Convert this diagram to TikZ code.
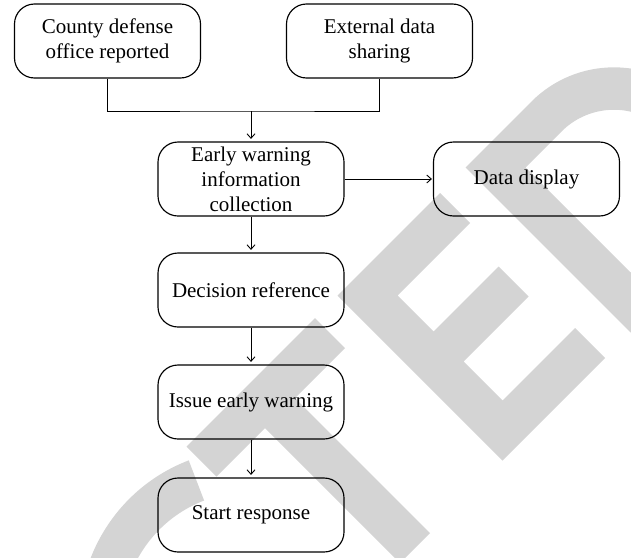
\documentclass[tikz,border=0pt]{standalone}
\usepackage{fontspec}
\setmainfont{Liberation Serif}
\usetikzlibrary{arrows.meta,calc}
\definecolor{wmgray}{RGB}{212,212,212}
\begin{document}
\begin{tikzpicture}[x=1pt,y=-1pt,
  box/.style={draw, line width=1.15pt, rounded corners=20pt, minimum width=186pt,
    minimum height=74pt, inner sep=0pt, align=center, font=\fontsize{21}{25}\selectfont},
  conn/.style={line width=0.9pt},
  arr/.style={conn, -{Straight Barb[length=4.5pt,width=8pt]}, shorten >=2.5pt},
  wm/.style={fill=wmgray, draw=none}]
\useasboundingbox (0,0) rectangle (631,557);
% watermark
\begin{scope}
\clip (0,0) rectangle (631,557);
% C
\fill[wm] ($(250,620)+(-111:171)$) arc[start angle=-111,end angle=-200,radius=171]
  -- ($(250,620)+(-200:128)$) arc[start angle=-200,end angle=-111,radius=128] -- cycle;
% T
\fill[wm] (315,318) -- (186.5,446.5) -- (216.5,476.5) -- (265,428) -- (400,563)
  -- (430,533) -- (295,398) -- (345,348) -- cycle;
% E
\fill[wm] (337.5,295.5) -- (502.5,460.5) -- (605,358) -- (575,328) -- (502.5,400.5)
  -- (463.5,361.5) -- (528.5,296.5) -- (498.5,266.5) -- (433.5,331.5) -- (397.5,295.5)
  -- (470,223) -- (440,193) -- cycle;
% D
\fill[wm, even odd rule] (465.5,167.5) -- (531.5,101.5)
  arc[start angle=-135,end angle=45,radius=116.7] -- (630.5,332.5) -- cycle
  (525.5,167.5) -- (561.5,131.5) arc[start angle=-135,end angle=45,radius=74.2]
  -- (630.5,272.5) -- cycle;
\end{scope}
% boxes
\node[box] (county) at (107.5,41) {County defense\\office reported};
\node[box] (external) at (379.5,41) {External data\\sharing};
\node[box] (early) at (251,179) {Early warning\\information\\collection};
\node[box] (data) at (526.5,179) {Data display};
\node[box] (decision) at (251,290) {Decision reference};
\node[box] (issue) at (251,402) {Issue early warning};
\node[box] (start) at (251,515) {Start response};
\coordinate (j) at (251,111);
% connectors
\draw[conn] (county.south) |- (j) -| (external.south);
\draw[arr] (j) -- (early.north);
\draw[arr, shorten >=1pt] (early.east) -- (data.west);
\draw[arr] (early.south) -- (decision.north);
\draw[arr] (decision.south) -- (issue.north);
\draw[arr] (issue.south) -- (start.north);
\end{tikzpicture}
\end{document}
